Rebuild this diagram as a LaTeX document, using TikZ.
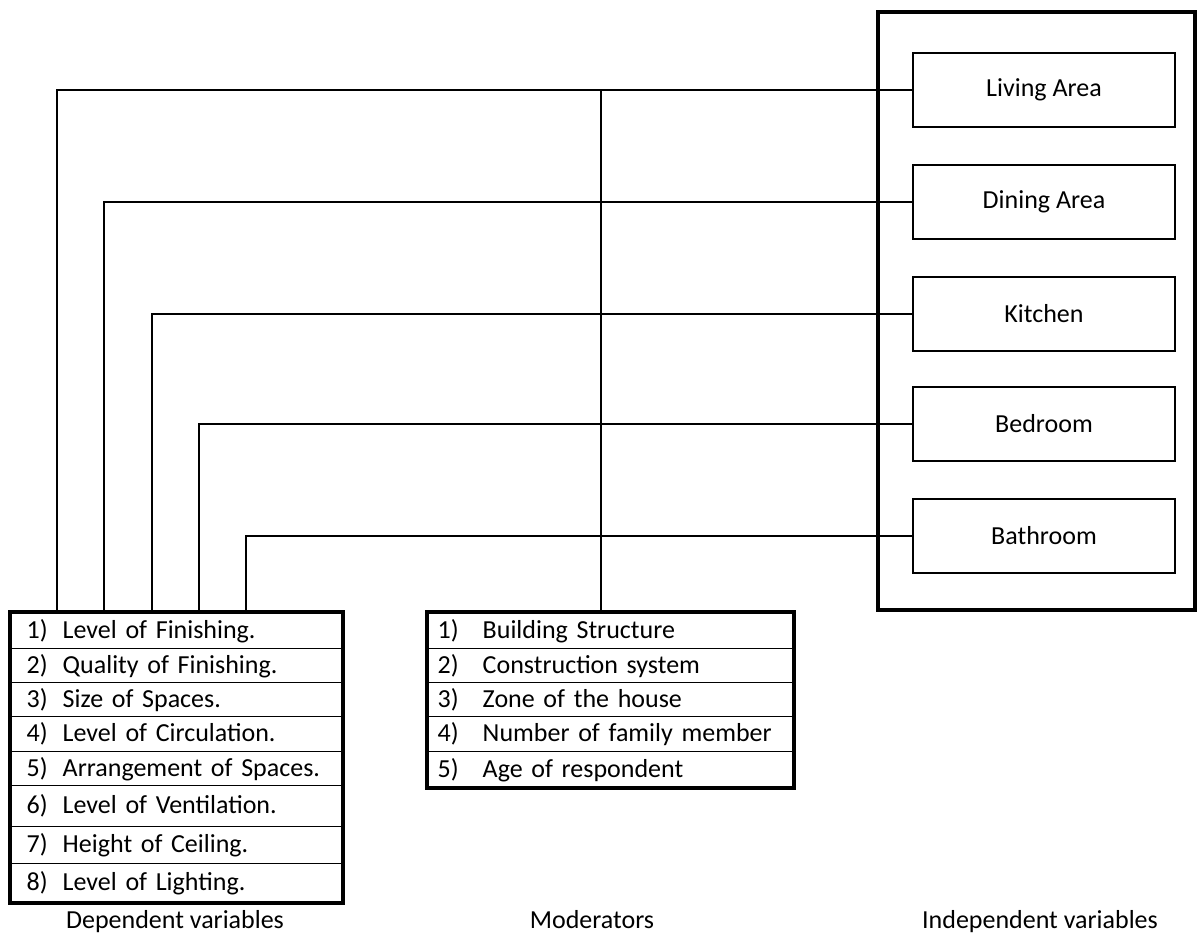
\documentclass[tikz,border=0pt]{standalone}
\usepackage{fontspec}
\setmainfont{Carlito}
\usetikzlibrary{positioning, calc}

\begin{document}
\begin{tikzpicture}[
  x=0.75pt, y=-0.75pt,
  font=\fontsize{19.5}{23}\selectfont,
  room/.style={rectangle, draw=black, line width=1.1pt,
               minimum width=196.5pt, minimum height=55.5pt,
               inner sep=0pt, align=center},
  drow/.style={rectangle, draw=black, line width=1.1pt, anchor=north west,
               inner xsep=12pt, inner ysep=0pt, text width=225pt, align=left},
  mrow/.style={rectangle, draw=black, line width=1.1pt, anchor=north west,
               inner xsep=7.5pt, inner ysep=0pt, text width=259.5pt, align=left},
  caption/.style={anchor=base, inner sep=0pt},
  frame/.style={line width=3pt},
  conn/.style={line width=1.1pt}
]
\useasboundingbox (0,0) rectangle (1197,933);

% independent variables
\node[room] (living)  at (1044, 90) {Living Area};
\node[room] (dining)  at (1044,202) {Dining Area};
\node[room] (kitchen) at (1044,314) {Kitchen};
\node[room] (bedroom) at (1044,424) {Bedroom};
\node[room] (bath)    at (1044,536) {Bathroom};
\draw[frame] (878,12) rectangle (1195,610);

% dependent variables
\node[drow, minimum height=27pt]    (d1) at (10,612) {\makebox[27pt][l]{1)}Level of Finishing.};
\node[drow, minimum height=25.5pt]  (d2) at (10,648) {\makebox[27pt][l]{2)}Quality of Finishing.};
\node[drow, minimum height=25.5pt]  (d3) at (10,682) {\makebox[27pt][l]{3)}Size of Spaces.};
\node[drow, minimum height=26.25pt] (d4) at (10,716) {\makebox[27pt][l]{4)}Level of Circulation.};
\node[drow, minimum height=25.5pt]  (d5) at (10,751) {\makebox[27pt][l]{5)}Arrangement of Spaces.};
\node[drow, minimum height=30.75pt] (d6) at (10,785) {\makebox[27pt][l]{6)}Level of Ventilation.};
\node[drow, minimum height=27.75pt] (d7) at (10,826) {\makebox[27pt][l]{7)}Height of Ceiling.};
\node[drow, minimum height=29.25pt] (d8) at (10,863) {\makebox[27pt][l]{8)}Level of Lighting.};
\draw[frame] (d1.north west) rectangle (d8.south east);

% moderators
\node[mrow, minimum height=27pt]    (m1) at (427,612) {\makebox[33.75pt][l]{1)}Building Structure};
\node[mrow, minimum height=25.5pt]  (m2) at (427,648) {\makebox[33.75pt][l]{2)}Construction system};
\node[mrow, minimum height=25.5pt]  (m3) at (427,682) {\makebox[33.75pt][l]{3)}Zone of the house};
\node[mrow, minimum height=26.25pt] (m4) at (427,716) {\makebox[33.75pt][l]{4)}Number of family member};
\node[mrow, minimum height=27pt]    (m5) at (427,751) {\makebox[33.75pt][l]{5)}Age of respondent};
\draw[frame] (m1.north west) rectangle (m5.south east);

% captions
\node[caption] (deplabel) at (175,928)  {Dependent variables};
\node[caption] (modlabel) at (592,928)  {Moderators};
\node[caption] (indlabel) at (1040,928) {Independent variables};

% connectors
\coordinate (c1) at (57,612);
\coordinate (c2) at (104,612);
\coordinate (c3) at (152,612);
\coordinate (c4) at (199,612);
\coordinate (c5) at (246,612);
\coordinate (cm) at (601,612);
\draw[conn] (living.west)  -| (c1);
\draw[conn] (dining.west)  -| (c2);
\draw[conn] (kitchen.west) -| (c3);
\draw[conn] (bedroom.west) -| (c4);
\draw[conn] (bath.west)    -| (c5);
\draw[conn] (cm) -- (cm |- living.west);
\end{tikzpicture}
\end{document}
